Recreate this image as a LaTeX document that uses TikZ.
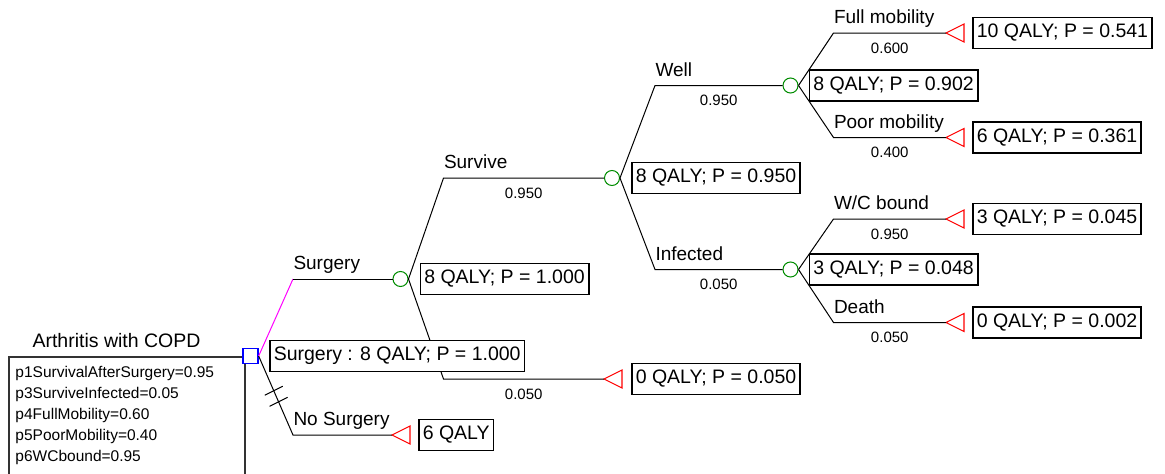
\documentclass[tikz,border=0pt]{standalone}
\usepackage{fontspec}
\setmainfont{Liberation Sans}
\usetikzlibrary{calc}
\definecolor{chancegreen}{RGB}{0,140,0}
\definecolor{optimalpath}{RGB}{255,0,255}
\tikzset{
  % elbow branch: diagonal out of a node, then horizontal into the next one
  branch/.style={to path={let \p1=(\tikztostart), \p2=(\tikztotarget) in
      -- (\x1+35pt,\y2) -- (\tikztotarget) \tikztonodes}},
  chancenode/.style={circle, draw=chancegreen, line width=1pt, minimum size=15pt, inner sep=0pt},
  decisionnode/.style={rectangle, draw=blue, fill=white, line width=1.3pt, minimum size=15pt, inner sep=0pt},
  valuebox/.style={draw, line width=1.6pt, fill=white, anchor=west, inner xsep=4pt,
      minimum height=31pt, font=\fontsize{19.5}{23}\selectfont},
  branchname/.style={anchor=base west, inner sep=0pt, yshift=9.5pt, font=\fontsize{19}{23}\selectfont},
  prob/.style={pos=0.5, anchor=center, yshift=-15pt, inner sep=0pt, font=\fontsize{15}{18}\selectfont},
  param/.style={anchor=base west, inner sep=0pt, font=\fontsize{15.5}{19}\selectfont},
  frame/.style={draw=black!80, line width=1.5pt},
  terminal/.pic={
    \draw[red, line width=1.1pt, line join=miter] (0,0) -- (18,-9) -- (18,9) -- cycle;
    \coordinate (-tip) at (0,0);
  },
}
\begin{document}
\begin{tikzpicture}[x=1pt, y=-1pt, line width=1pt]
\useasboundingbox (0,0) rectangle (1165,474);

% chance nodes
\node[chancenode] (c1) at (400.5,279) {};
\node[chancenode] (c2) at (612,178) {};
\node[chancenode] (c3) at (790.5,85.5) {};
\node[chancenode] (c4) at (790.5,269.5) {};

% terminal nodes
\pic (tNS) at (392,435) {terminal};
\pic (tDie) at (604,379) {terminal};
\pic (tFull) at (946,33) {terminal};
\pic (tPoor) at (946,137.5) {terminal};
\pic (tWC) at (946,219) {terminal};
\pic (tDeath) at (946,322.5) {terminal};

% model name and parameter list
\node[anchor=base, inner sep=0pt, font=\fontsize{19.5}{23}\selectfont] (title) at (116.5,347) {Arthritis with COPD};
\coordinate (frameBL) at (9,480);
\coordinate (frameTL) at (9,357);
\coordinate (frameTR) at (245,357);
\coordinate (frameBR) at (245,480);
\draw[frame] (frameBL) -- (frameTL) -- (frameTR) -- (frameBR);
\node[param] (p1) at (15,377) {p1SurvivalAfterSurgery=0.95};
\node[param] (p3) at (15,398) {p3SurviveInfected=0.05};
\node[param] (p4) at (15,419) {p4FullMobility=0.60};
\node[param] (p5) at (15,440) {p5PoorMobility=0.40};
\node[param] (p6) at (15,461) {p6WCbound=0.95};

% decision node, on top of the frame corner
\node[decisionnode] (dec) at (250.5,356) {};

% decision branches
\coordinate (bS) at (293,279);
\coordinate (bNS) at (293,435);
\draw[optimalpath] (dec.east) -- (bS);
\draw (bS) -- node[pos=0, branchname] {Surgery} (c1.west);
\draw (dec.east) -- coordinate[pos=0.44] (h1) coordinate[pos=0.58] (h2) (bNS)
      -- node[pos=0, branchname] {No Surgery} (tNS-tip);
\draw ([shift={(-9,4.5)}]h1) -- ([shift={(9,-4.5)}]h1);
\draw ([shift={(-9,4.5)}]h2) -- ([shift={(9,-4.5)}]h2);

% chance branches
\draw (c1.east) to[branch] node[pos=0, branchname] {Survive} node[prob] {0.950} (c2.west);
\draw (c1.east) to[branch] node[prob] {0.050} (tDie-tip);
\draw (c2.east) to[branch] node[pos=0, branchname] {Well} node[prob] {0.950} (c3.west);
\draw (c2.east) to[branch] node[pos=0, branchname] {Infected} node[prob] {0.050} (c4.west);
\draw (c3.east) to[branch] node[pos=0, branchname] {Full mobility} node[prob] {0.600} (tFull-tip);
\draw (c3.east) to[branch] node[pos=0, branchname] {Poor mobility} node[prob] {0.400} (tPoor-tip);
\draw (c4.east) to[branch] node[pos=0, branchname] {W/C bound} node[prob] {0.950} (tWC-tip);
\draw (c4.east) to[branch] node[pos=0, branchname] {Death} node[prob] {0.050} (tDeath-tip);

% expected values
\node[valuebox] (vSum) at (269,356) {Surgery : 8 QALY; P = 1.000};
\node[valuebox] (vC1) at ([xshift=11pt]c1.east) {8 QALY; P = 1.000};
\node[valuebox] (vC2) at ([xshift=11pt]c2.east) {8 QALY; P = 0.950};
\node[valuebox] (vC3) at ([xshift=10pt]c3.east) {8 QALY; P = 0.902};
\node[valuebox] (vC4) at ([xshift=10pt]c4.east) {3 QALY; P = 0.048};
\node[valuebox] (vNS) at ([xshift=26pt]tNS-tip) {6 QALY};
\node[valuebox] (vDie) at ([xshift=27pt]tDie-tip) {0 QALY; P = 0.050};
\node[valuebox] (vFull) at ([xshift=26pt]tFull-tip) {10 QALY; P = 0.541};
\node[valuebox] (vPoor) at ([xshift=26pt]tPoor-tip) {6 QALY; P = 0.361};
\node[valuebox] (vWC) at ([xshift=26pt]tWC-tip) {3 QALY; P = 0.045};
\node[valuebox] (vDeath) at ([xshift=26pt]tDeath-tip) {0 QALY; P = 0.002};
\end{tikzpicture}
\end{document}
